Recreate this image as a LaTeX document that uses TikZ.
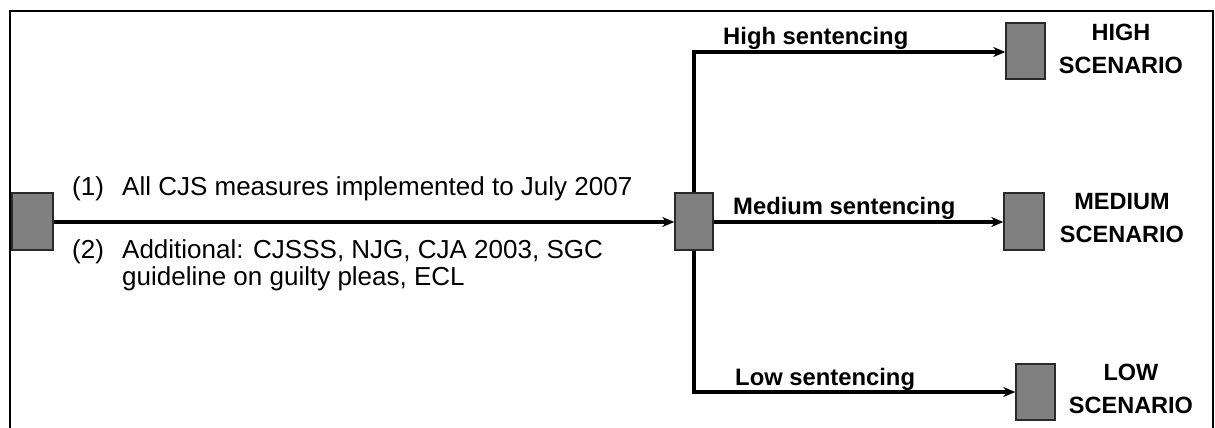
\documentclass[tikz,border=0pt]{standalone}
\usepackage{fontspec}
\setmainfont{Liberation Sans}
\usetikzlibrary{arrows.meta}
\definecolor{boxgray}{HTML}{808080}
\definecolor{boxedge}{HTML}{2A2A2A}
\tikzset{
  stagebox/.style={draw=boxedge, fill=boxgray, line width=1.4pt, minimum width=#1, minimum height=57pt, inner sep=0pt},
  flow/.style={line width=3.8pt, -{Stealth[length=12pt,width=10pt]}},
  branch/.style={line width=3.8pt},
  plain/.style={font=\fontsize{26}{30}\selectfont, inner sep=0pt, anchor=base west},
  blabel/.style={font=\fontsize{23.8}{28}\selectfont\bfseries, inner sep=0pt, anchor=base west},
  scen/.style={font=\fontsize{23.5}{33}\selectfont\bfseries, inner sep=0pt, align=center, anchor=north}
}
\begin{document}
\begin{tikzpicture}[x=1pt,y=-1pt]
\useasboundingbox (0,0) rectangle (1215,428);
% frame
\draw[line width=1.8pt] (10,428) -- (10,11) -- (1213,11) -- (1213,428);
% boxes
\node[stagebox=41pt] (start) at (32.5,221.5) {};
\node[stagebox=38pt] (mid) at (694,221.5) {};
\node[stagebox=39pt, minimum height=56pt] (high) at (1025.5,51) {};
\node[stagebox=40pt] (med) at (1024,221.5) {};
\node[stagebox=39pt, minimum height=56pt] (low) at (1035.5,392) {};
\coordinate (jtop) at (694,52);
\coordinate (jbot) at (694,392);
% connectors
\draw[branch] (mid.north) -- (jtop);
\draw[branch] (mid.south) -- (jbot);
\draw[flow] (start.east |- 0,222) -- (mid.west |- 0,222);
\draw[flow] ([xshift=-1.9pt]jtop) -- (high.west |- jtop);
\draw[flow] (mid.east |- 0,222) -- (med.west |- 0,222);
\draw[flow] ([xshift=-1.9pt]jbot) -- (low.west |- jbot);
% texts
\node[plain] (t1) at (72,195.5) {\makebox[50pt][l]{(1)}All CJS measures implemented to July 2007};
\node[plain] (t2) at (72,258.5) {\makebox[50pt][l]{(2)}Additional: CJSSS, NJG, CJA 2003, SGC};
\node[plain] (t3) at (122,285) {guideline on guilty pleas, ECL};
\node[blabel] (lh) at (723,45) {High sentencing};
\node[blabel] (lm) at (733,214) {Medium sentencing};
\node[blabel] (ll) at (735,385) {Low sentencing};
\node[scen] (sh) at (1121,24) {HIGH\\SCENARIO};
\node[scen] (sm) at (1122,193) {MEDIUM\\SCENARIO};
\node[scen] (sl) at (1131,364) {LOW\\SCENARIO};
\end{tikzpicture}
\end{document}
